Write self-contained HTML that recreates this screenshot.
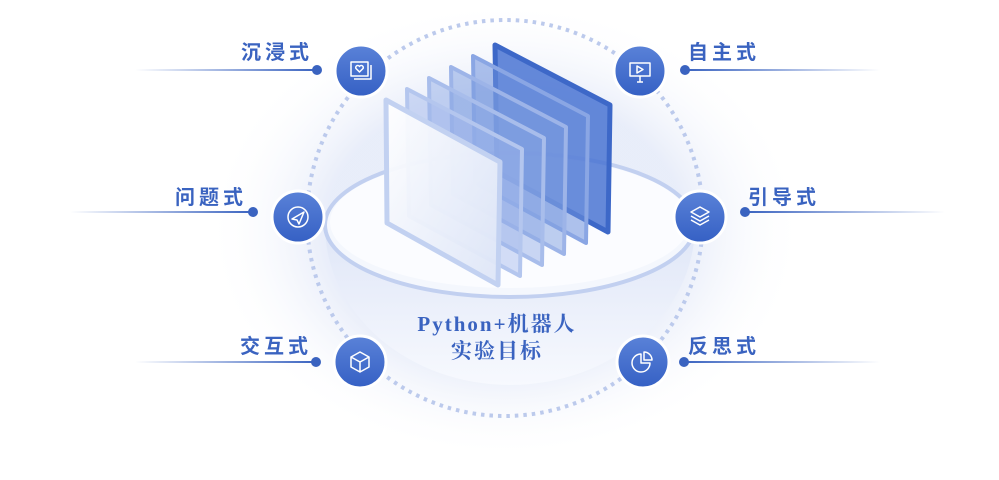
<!DOCTYPE html>
<html><head><meta charset="utf-8"><style>
body{margin:0;width:999px;height:480px;overflow:hidden;background:#fff;font-family:"Liberation Sans","Noto Sans CJK SC",sans-serif}
.lab{position:absolute;font-size:20px;font-weight:bold;color:#3a63c0;letter-spacing:4px;line-height:1}
</style></head><body>
<svg width="999" height="480" style="position:absolute;left:0;top:0">
<defs>
<radialGradient id="glow" cx="0.5" cy="0.5" r="0.5"><stop offset="0.6" stop-color="#e3e9f8" stop-opacity="0.8"/><stop offset="1" stop-color="#fff" stop-opacity="0"/></radialGradient>
<linearGradient id="ll" x1="0" x2="1"><stop offset="0" stop-color="#3a63c0" stop-opacity="0"/><stop offset="1" stop-color="#3a63c0"/></linearGradient>
<linearGradient id="lr" x1="0" x2="1"><stop offset="0" stop-color="#3a63c0"/><stop offset="1" stop-color="#3a63c0" stop-opacity="0"/></linearGradient>
<linearGradient id="node" x1="0" y1="0" x2="0" y2="1"><stop offset="0" stop-color="#5a82d8"/><stop offset="1" stop-color="#3560c4"/></linearGradient>
<linearGradient id="bowl" x1="0" y1="0" x2="0" y2="1"><stop offset="0" stop-color="#dfe6f7"/><stop offset="1" stop-color="#f7f9fe"/></linearGradient>
<linearGradient id="front" x1="0" y1="0" x2="1" y2="1"><stop offset="0" stop-color="#ffffff"/><stop offset="1" stop-color="#dde5f7"/></linearGradient>
</defs>
<ellipse cx="505" cy="230" rx="300" ry="230" fill="url(#glow)"/>
<circle cx="505" cy="218" r="198" fill="none" stroke="#bccaec" stroke-width="4" stroke-dasharray="3.5 5"/>
<path d="M325 225 A185 160 0 0 0 695 225 Z" fill="url(#bowl)"/>
<ellipse cx="510" cy="225" rx="185" ry="72" fill="#f4f7fd" stroke="#c2d0f0" stroke-width="4"/>
<ellipse cx="510" cy="222" rx="180" ry="66" fill="#fbfcff"/>
<g stroke-linejoin="round">
<polygon points="495,45 610,105 608,232 497,172" fill="#4a74d2" fill-opacity="0.85" stroke="#3d68c8" stroke-width="5"/>
<polygon points="473,56 588,116 586,243 475,183" fill="#6d90dc" fill-opacity="0.55" stroke="#8aa6e4" stroke-width="4"/>
<polygon points="451,67 566,127 564,254 453,194" fill="#7e9de0" fill-opacity="0.5" stroke="#9db4e8" stroke-width="4"/>
<polygon points="429,78 544,138 542,265 431,205" fill="#8aa6e4" fill-opacity="0.45" stroke="#a8bdeb" stroke-width="4"/>
<polygon points="407,89 522,149 520,276 409,216" fill="#9fb6ea" fill-opacity="0.45" stroke="#b4c6ee" stroke-width="4"/>
<polygon points="386,100 500,162 498,285 387,223" fill="url(#front)" fill-opacity="0.95" stroke="#c2d1f1" stroke-width="5"/>
</g>
<rect x="135" y="69" width="182" height="2" fill="url(#ll)"/><circle cx="317" cy="70" r="5" fill="#3a63c0"/>
<rect x="70" y="211" width="183" height="2" fill="url(#ll)"/><circle cx="253" cy="212" r="5" fill="#3a63c0"/>
<rect x="135" y="361" width="181" height="2" fill="url(#ll)"/><circle cx="316" cy="362" r="5" fill="#3a63c0"/>
<rect x="685" y="69" width="195" height="2" fill="url(#lr)"/><circle cx="685" cy="70" r="5" fill="#3a63c0"/>
<rect x="745" y="211" width="200" height="2" fill="url(#lr)"/><circle cx="745" cy="212" r="5" fill="#3a63c0"/>
<rect x="684" y="361" width="196" height="2" fill="url(#lr)"/><circle cx="684" cy="362" r="5" fill="#3a63c0"/>
<g stroke="#fff" stroke-width="3"><circle cx="361" cy="71" r="26" fill="url(#node)"/><circle cx="640" cy="71" r="26" fill="url(#node)"/><circle cx="298" cy="217" r="26" fill="url(#node)"/><circle cx="700" cy="217" r="26" fill="url(#node)"/><circle cx="360" cy="362" r="26" fill="url(#node)"/><circle cx="643" cy="362" r="26" fill="url(#node)"/></g>
<g fill="none" stroke="#fff" stroke-width="1.5" stroke-linejoin="round">
<rect x="351" y="62" width="17" height="14"/><path d="M354 79 H371 V65"/><path d="M359.5 72 l-3.5-3.5 a2 2 0 0 1 3.5-2 a2 2 0 0 1 3.5 2 z"/>
<rect x="630" y="63" width="20" height="13"/><path d="M637 82 h6 M640 76 v6"/><path d="M637 66 l6 3.5 -6 3.5z"/>
<circle cx="298" cy="217" r="10"/><path d="M292 219 l12 -7 -5 12 -2 -4z"/>
<path d="M700 207 l9 5 -9 5 -9 -5z M691 216 l9 5 9 -5 M691 220 l9 5 9 -5"/>
<path d="M360 352 l9 5 v10 l-9 5 -9 -5 v-10z M351 357 l9 5 9 -5 M360 362 v10"/>
<path d="M641 354 a9 9 0 1 0 9 9 h-9z M644 352 a8 8 0 0 1 8 8 h-8z"/>
</g>
</svg>
<div class="lab" style="left:241px;top:43px">沉浸式</div>
<div class="lab" style="left:175px;top:188px">问题式</div>
<div class="lab" style="left:240px;top:337px">交互式</div>
<div class="lab" style="left:688px;top:43px">自主式</div>
<div class="lab" style="left:748px;top:188px">引导式</div>
<div class="lab" style="left:688px;top:337px">反思式</div>
<div style="position:absolute;left:380px;width:234px;top:311px;text-align:center;font-family:'Liberation Serif','Noto Serif CJK SC',serif;font-size:21px;font-weight:bold;color:#3a63c0;line-height:27px;letter-spacing:2px">Python+机器人<br>实验目标</div>
</body></html>
